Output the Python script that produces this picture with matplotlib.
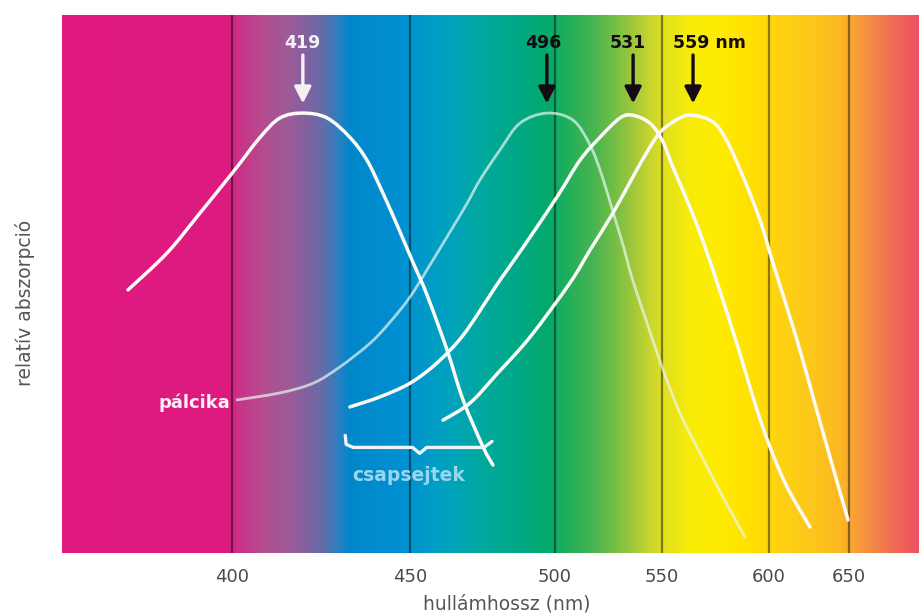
import numpy as np
import matplotlib
matplotlib.use('Agg')
import matplotlib.pyplot as plt
from matplotlib.transforms import IdentityTransform, offset_copy
from matplotlib.colors import to_rgb
from matplotlib.path import Path
from matplotlib.patches import PathPatch

plt.rcParams['font.family'] = ['DejaVu Sans']

# ---------------- data ----------------
tick_nm = [400, 450, 500, 550, 600, 650]
tick_labels = ['400', '450', '500', '550', '600', '650']

# S-cone (blue) curve
blue_nm = [369.4, 380.9, 390.6, 400.3, 407.9, 413.5, 419.9, 426.7, 433.1, 437.9,
           442.4, 447.2, 451.0, 455.9, 462.8, 468.3, 475.2, 478.6]
blue_abs = [0.598, 0.682, 0.773, 0.866, 0.945, 0.989, 1.000, 0.989, 0.945, 0.893,
            0.818, 0.730, 0.661, 0.586, 0.461, 0.348, 0.241, 0.200]

# rod (pálcika) curve
rod_nm = [401.4, 413.5, 422.8, 430.3, 438.8, 444.4, 450.0, 456.9, 463.8, 469.7,
          474.1, 481.0, 487.9, 497.2, 508.4, 516.4, 522.0, 527.1, 531.8, 536.0,
          543.0, 550.0, 558.4, 567.8, 578.5, 588.8]
rod_abs = [0.348, 0.364, 0.386, 0.423, 0.477, 0.525, 0.582, 0.655, 0.730, 0.795,
           0.848, 0.916, 0.977, 1.000, 0.984, 0.927, 0.857, 0.775, 0.700, 0.625,
           0.523, 0.423, 0.318, 0.227, 0.127, 0.036]

# M-cone (green) curve
green_nm = [433.1, 441.6, 450.0, 459.3, 468.3, 477.6, 481.0, 489.0, 500.9, 511.7,
            521.0, 530.4, 536.5, 544.4, 550.0, 555.1, 561.7, 567.8, 575.2, 585.5,
            593.5, 600.6, 611.3, 625.6]
green_abs = [0.332, 0.355, 0.386, 0.432, 0.495, 0.586, 0.620, 0.695, 0.809, 0.893,
             0.945, 0.989, 0.995, 0.977, 0.939, 0.877, 0.802, 0.727, 0.623, 0.468,
             0.339, 0.241, 0.150, 0.059]

# L-cone (red) curve
red_nm = [461.4, 470.7, 480.0, 491.4, 507.0, 516.4, 527.1, 536.4, 544.4, 550.0,
          558.4, 564.5, 573.8, 580.4, 587.9, 595.8, 602.5, 617.5, 627.5,
          638.1, 649.4]
red_abs = [0.302, 0.341, 0.407, 0.491, 0.614, 0.689, 0.773, 0.855, 0.923, 0.961,
           0.989, 0.995, 0.980, 0.936, 0.855, 0.757, 0.659, 0.484, 0.355,
           0.218, 0.075]

peak_labels = ['419', '496', '531', '559 nm']
cone_span_nm = [431.8, 477.6]

# ---------------- axis scale (the original's wavelength axis is not linear) ----
scale_nm = [-1000, 350, 400, 450, 500, 550, 600, 650, 700, 3000]
scale_pos = [62 - 1350 * 3.4, 62, 232, 410, 555, 662, 769, 849, 920, 920 + 2300 * 1.42]


def fwd(x):
    return np.interp(np.asarray(x, float), scale_nm, scale_pos)


def inv(p):
    return np.interp(np.asarray(p, float), scale_pos, scale_nm)


def smooth_curve(xs, ys):
    """Smooth Bezier path through the given points (Catmull-Rom in scaled space)."""
    P = np.column_stack([fwd(xs), np.asarray(ys, float)])
    n = len(P)
    verts = [P[0]]
    codes = [Path.MOVETO]
    for i in range(n - 1):
        p0 = P[max(i - 1, 0)]
        p1 = P[i]
        p2 = P[i + 1]
        p3 = P[min(i + 2, n - 1)]
        verts += [p1 + (p2 - p0) / 6.0, p2 - (p3 - p1) / 6.0, p2]
        codes += [Path.CURVE4] * 3
    V = np.array(verts)
    V[:, 0] = inv(V[:, 0])
    return Path(V, codes)


W, H = 920, 616
fig = plt.figure(figsize=(W / 100, H / 100), dpi=100)
ax = fig.add_axes([62 / W, 63 / H, 858 / W, 538 / H])
ax.set_xscale('function', functions=(fwd, inv))

# spectrum background
stops = [(62, '#E0197F'), (228, '#DD1B80'), (240, '#C83488'), (265, '#B34E90'),
         (290, '#9B5C98'), (310, '#7C63A0'), (325, '#5E6EAC'), (338, '#2C80C0'),
         (350, '#0087CA'), (400, '#0090D2'), (420, '#0098CC'), (450, '#00A3BC'),
         (480, '#00A8A0'), (520, '#00A984'), (550, '#05AA6A'), (570, '#25AF58'),
         (595, '#4AB550'), (615, '#75BE45'), (635, '#A5C93A'), (650, '#C8D52E'),
         (665, '#E2E020'), (690, '#F8EC08'), (720, '#FFEC00'), (750, '#FFE000'),
         (775, '#FFD410'), (810, '#FDC81A'), (840, '#FBB822'), (855, '#F8A035'),
         (875, '#F38448'), (895, '#EF6A55'), (920, '#EC5062')]
sx = np.array([s[0] for s in stops], float)
sc = np.array([to_rgb(s[1]) for s in stops])
cols = np.arange(62, 920) + 0.5
img = np.stack([np.interp(cols, sx, sc[:, k]) for k in range(3)], axis=-1)[None, :, :]
ax.imshow(img, extent=(0, 1, 0, 1), transform=ax.transAxes, aspect='auto',
          interpolation='bilinear', zorder=0)
ax.set_xlim(350, 700)
ax.set_ylim(0, 1.223)

for t in tick_nm:
    ax.axvline(t, color='black', alpha=0.45, lw=1.6, zorder=1)

# curves
ax.add_patch(PathPatch(smooth_curve(rod_nm, rod_abs), fill=False, edgecolor='#EAF6F2',
                       lw=2.0, alpha=0.7, zorder=3, capstyle='round', joinstyle='round'))
for xs, ys in [(blue_nm, blue_abs), (green_nm, green_abs), (red_nm, red_abs)]:
    ax.add_patch(PathPatch(smooth_curve(xs, ys), fill=False, edgecolor='#FBFAF6',
                           lw=2.5, zorder=4, capstyle='round', joinstyle='round'))

# peak arrows and labels
curves = [(blue_nm, blue_abs), (rod_nm, rod_abs), (green_nm, green_abs), (red_nm, red_abs)]
arrow_cols = ['#F6F0F6', '#140A14', '#140A14', '#140A14']
label_dx = [0, -4, -5, 16]
for (xs, ys), lab, c, dx in zip(curves, peak_labels, arrow_cols, label_dx):
    xp = xs[int(np.argmax(ys))]
    ax.annotate('', xy=(xp, 1.022), xytext=(xp, 1.132),
                arrowprops=dict(arrowstyle='-|>,head_length=0.55,head_width=0.28',
                                lw=2.4, color=c, mutation_scale=18,
                                shrinkA=0, shrinkB=0), zorder=5)
    tr = offset_copy(ax.transData, fig=fig, x=dx, y=0, units='dots')
    ax.text(xp, 1.160, lab, transform=tr, ha='center', va='center',
            fontsize=12.5, fontweight='bold', color=c, zorder=5)

# labels inside
tr = offset_copy(ax.transData, fig=fig, x=-7, y=-3, units='dots')
ax.text(rod_nm[0], rod_abs[0], 'pálcika', transform=tr, ha='right', va='center',
        fontsize=13, fontweight='bold', color='#FBEFF6', zorder=5)

# brace for cones
fig.canvas.draw()
x0, yb = ax.transData.transform((cone_span_nm[0], 0.24))
x1, _ = ax.transData.transform((cone_span_nm[1], 0.24))
xm = 0.5 * (x0 + x1) + 2
bx = [x0, x0 + 1, x0 + 8, xm - 7, xm, xm + 7, x1 - 6, x1 + 2]
by = [yb + 12, yb + 3, yb, yb, yb - 6, yb, yb, yb + 6]
ax.plot(bx, by, transform=IdentityTransform(), color='#EAF4FA', lw=2.4, zorder=4,
        solid_joinstyle='round', solid_capstyle='round')
ax.text(xm - 11, yb - 28, 'csapsejtek', transform=IdentityTransform(), ha='center',
        va='center', fontsize=13.5, fontweight='bold', color='#9AD6EE', zorder=5)

# axes styling
for s in ax.spines.values():
    s.set_visible(False)
ax.set_yticks([])
ax.set_xticks(tick_nm)
ax.set_xticklabels(tick_labels)
ax.xaxis.set_minor_locator(matplotlib.ticker.NullLocator())
ax.tick_params(axis='x', length=0, pad=11, labelsize=13, labelcolor='#4A4A4A')

fig.text(507 / W, 1 - 604 / H, 'hullámhossz (nm)', ha='center', va='center',
         fontsize=13.5, color='#555555')
fig.text(25 / W, 1 - 303 / H, 'relatív abszorpció', ha='center', va='center',
         rotation=90, fontsize=13.5, color='#555555')

fig.savefig('out.png', dpi=100)
